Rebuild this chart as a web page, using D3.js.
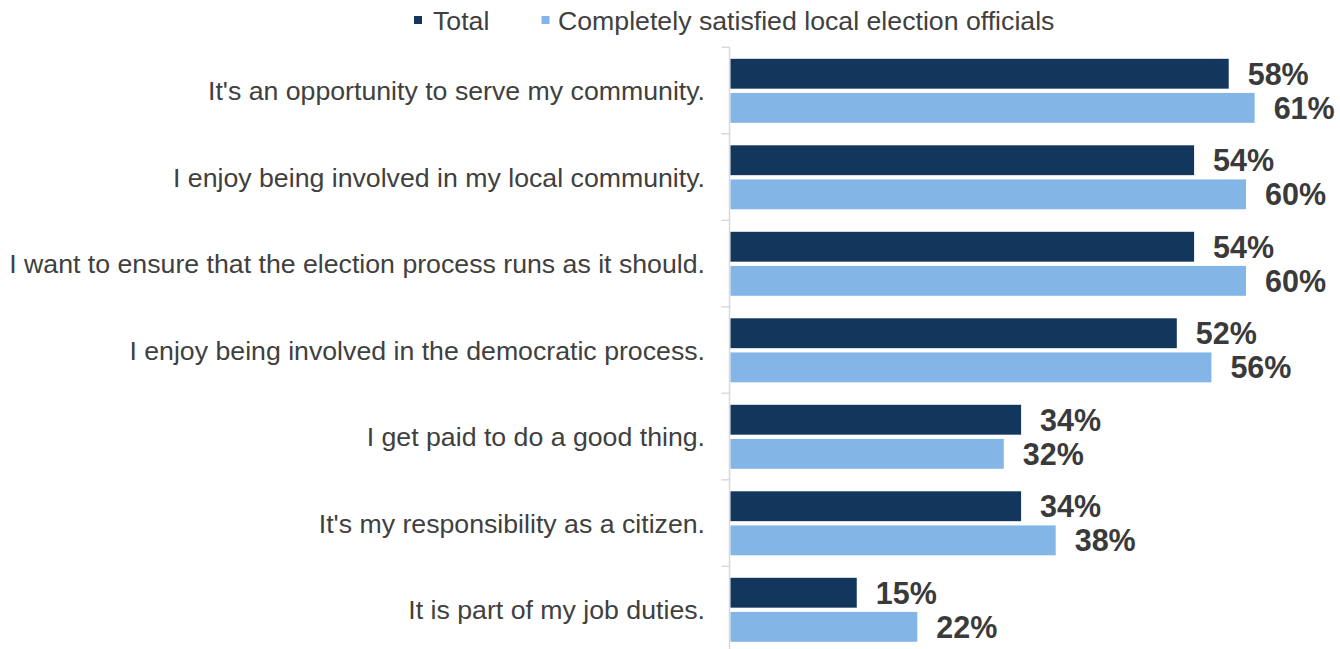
<!DOCTYPE html>
<html><head><meta charset="utf-8">
<script src="https://cdn.jsdelivr.net/npm/d3@7"></script>
<style>body{margin:0;background:#fff}svg{display:block}</style>
</head><body>
<script>
const categories = [
  "It's an opportunity to serve my community.",
  "I enjoy being involved in my local community.",
  "I want to ensure that the election process runs as it should.",
  "I enjoy being involved in the democratic process.",
  "I get paid to do a good thing.",
  "It's my responsibility as a citizen.",
  "It is part of my job duties."
];
const seriesNames = ["Total", "Completely satisfied local election officials"];
const totalValues = [58, 54, 54, 52, 34, 34, 15];
const satisfiedValues = [61, 60, 60, 56, 32, 38, 22];
const colors = ["#13365c", "#83b5e6"];

const W = 1340, H = 649;
const FONT = "'Liberation Sans', Arial, sans-serif";
const svg = d3.select("body").append("svg").attr("width", W).attr("height", H);

const x = d3.scaleLinear().domain([0, 70]).range([727, 727 + 8.65 * 70]);
const barStart = 730.5;
const y = d3.scaleBand().domain(categories).range([47.3, 47.3 + 86.5 * 7]);
const sub = d3.scaleBand().domain([0, 1]).range([11.5, 75.5]).paddingInner(0.125);

const data = categories.map((c, i) => ({c, vals: [totalValues[i], satisfiedValues[i]]}));

// axis
const axisG = svg.append("g").attr("transform", "translate(729.5,0)");
axisG.call(d3.axisLeft(y).tickSize(0).tickFormat(""));
axisG.select(".domain").attr("stroke", "#d9d9d9").attr("stroke-width", 1.5)
  .attr("d", `M0,${y.range()[0]}V${H + 10}`);
const tickYs = categories.map(c => y(c)).concat([y.range()[1]]);
axisG.selectAll("line.sep").data(tickYs).join("line").attr("class", "sep")
  .attr("x1", -8).attr("x2", 0).attr("y1", d => d).attr("y2", d => d)
  .attr("stroke", "#d9d9d9").attr("stroke-width", 1.5);

// category labels
svg.append("g").selectAll("text").data(categories).join("text")
  .attr("x", 705).attr("y", d => y(d) + y.bandwidth() / 2).attr("dy", "0.36em")
  .attr("text-anchor", "end").style("font-family", FONT)
  .attr("font-size", 26.7).attr("fill", "#404040").text(d => d);

// bars
const g = svg.append("g").selectAll("g").data(data).join("g")
  .attr("transform", d => `translate(0,${y(d.c)})`);
g.selectAll("rect").data(d => d.vals).join("rect")
  .attr("x", barStart).attr("y", (d, i) => sub(i)).attr("height", sub.bandwidth())
  .attr("width", d => x(d) - barStart).attr("fill", (d, i) => colors[i]);
g.selectAll("text").data(d => d.vals).join("text")
  .attr("x", d => x(d) + 19).attr("y", (d, i) => sub(i) + sub.bandwidth() / 2).attr("dy", "0.36em")
  .style("font-family", FONT).attr("font-weight", "bold")
  .attr("font-size", 30.5).attr("fill", "#3a3a3a").text(d => d + "%");

// legend
const legX = [414, 541.5];
const leg = svg.append("g").selectAll("g").data(seriesNames).join("g")
  .attr("transform", (d, i) => `translate(${legX[i]},0)`);
leg.append("rect").attr("x", 0).attr("y", 16).attr("width", 8).attr("height", 8)
  .attr("fill", (d, i) => colors[i]);
leg.append("text").attr("x", (d, i) => i === 0 ? 19 : 16.5).attr("y", 29.5)
  .style("font-family", FONT).attr("font-size", 26.7)
  .attr("fill", "#404040").text(d => d);
</script>
</body></html>
